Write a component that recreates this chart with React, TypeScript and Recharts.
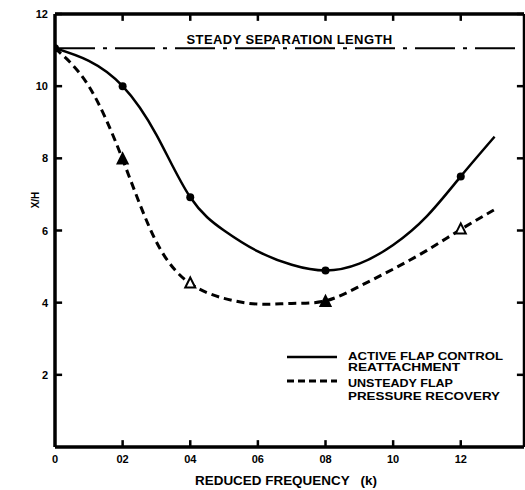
import React from 'react';
import { ComposedChart, Line, Scatter, XAxis, YAxis, ReferenceLine, Legend, Label } from 'recharts';

// axis ticks
const freqTicks = [0, 0.2, 0.4, 0.6, 0.8, 1.0, 1.2];
const freqTickLabels = ['0', '02', '04', '06', '08', '10', '12'];
const xhTicks = [2, 4, 6, 8, 10, 12];
const kMax = 1.387;
const xhMax = 12;

const steadyLength = 11.05;

// faired curves
const curveK = [0, 0.1, 0.2, 0.3, 0.4, 0.5, 0.6, 0.7, 0.8, 0.9, 1.0, 1.1, 1.2, 1.3];
const activeCurveXH = [11.05, 10.7, 10.0, 8.65, 6.92, 6.0, 5.42, 5.05, 4.89, 5.08, 5.6, 6.4, 7.5, 8.6];
const unsteadyCurveXH = [11.05, 10.0, 7.97, 5.68, 4.53, 4.12, 3.96, 3.98, 4.05, 4.45, 4.93, 5.45, 6.03, 6.58];

// measured points
const activePointK = [0, 0.2, 0.4, 0.8, 1.2];
const activePointXH = [11.05, 10.0, 6.92, 4.89, 7.5];
const unsteadyPointK = [0.2, 0.4, 0.8, 1.2];
const unsteadyPointXH = [7.97, 4.53, 4.02, 6.03];
const unsteadyPointFilled = [true, false, true, false];

const activeCurve = curveK.map((k, i) => ({ k, xh: activeCurveXH[i] }));
const unsteadyCurve = curveK.map((k, i) => ({ k, xh: unsteadyCurveXH[i] }));
const activePoints = activePointK.map((k, i) => ({ k, xh: activePointXH[i] }));
const unsteadyPoints = unsteadyPointK.map((k, i) => ({ k, xh: unsteadyPointXH[i], filled: unsteadyPointFilled[i] }));

const FONT = '"Liberation Sans", Arial, sans-serif';
// inward tick marks, in axis units (about 7px)
const TICK_K = 0.021;
const TICK_XH = 0.19;

const BottomTick = ({ x, y, payload }: any) => {
  const idx = freqTicks.findIndex((t) => Math.abs(t - payload.value) < 1e-6);
  return (
    <text x={x} y={y} textAnchor="middle" fontFamily={FONT} fontWeight="bold" fontSize={11} fill="#000">
      {freqTickLabels[idx]}
    </text>
  );
};

const LeftTick = ({ x, y, payload }: any) => (
  <text x={x} y={y + 4} textAnchor="end" fontFamily={FONT} fontWeight="bold" fontSize={11} fill="#000">
    {payload.value}
  </text>
);

const Dot = ({ cx, cy }: any) => <circle cx={cx} cy={cy} r={4} fill="#000" />;

const Triangle = ({ cx, cy, payload }: any) => (
  <polygon
    points={`${cx},${cy - 6} ${cx - 5},${cy + 4} ${cx + 5},${cy + 4}`}
    fill={payload.filled ? '#000' : '#fff'}
    stroke="#000"
    strokeWidth={2}
  />
);

const YTitle = () => (
  <text transform="translate(39, 200) rotate(-90)" textAnchor="middle" fontFamily={FONT} fontWeight="bold" fontSize={10} fill="#000">
    X/H
  </text>
);

const XTitle = ({ viewBox }: any) => (
  <text
    x={195}
    y={viewBox.y + viewBox.height - 5}
    textLength={182}
    lengthAdjust="spacingAndGlyphs"
    fontFamily={FONT}
    fontWeight="bold"
    fontSize={12.5}
    fill="#000"
    style={{ whiteSpace: 'pre' }}
  >
    REDUCED FREQUENCY   (k)
  </text>
);

const legendText = { fontFamily: FONT, fontWeight: 'bold', fontSize: 11, fill: '#000' } as const;

const LegendBox = () => (
  <svg width={225} height={60} style={{ display: 'block', overflow: 'visible' }}>
    <line x1={2} x2={52} y1={12} y2={12} stroke="#000" strokeWidth={2.5} />
    <text x={63} y={15} textLength={155} lengthAdjust="spacingAndGlyphs" {...legendText}>ACTIVE FLAP CONTROL</text>
    <text x={63} y={25.5} textLength={112} lengthAdjust="spacingAndGlyphs" {...legendText}>REATTACHMENT</text>
    <line x1={2} x2={52} y1={36} y2={36} stroke="#000" strokeWidth={3} strokeDasharray="7 4" />
    <text x={63} y={42} textLength={105} lengthAdjust="spacingAndGlyphs" {...legendText}>UNSTEADY FLAP</text>
    <text x={63} y={54.5} textLength={152} lengthAdjust="spacingAndGlyphs" {...legendText}>PRESSURE RECOVERY</text>
  </svg>
);

export default function App() {
  const tickMarks = [
    ...freqTicks.slice(1).map((k) => [{ x: k, y: 0 }, { x: k, y: TICK_XH }]),
    ...freqTicks.slice(1).map((k) => [{ x: k, y: xhMax }, { x: k, y: xhMax - TICK_XH }]),
    ...xhTicks.map((v) => [{ x: 0, y: v }, { x: TICK_K, y: v }]),
    ...xhTicks.map((v) => [{ x: kMax, y: v }, { x: kMax - TICK_K, y: v }]),
  ];

  return (
    <div style={{ position: 'absolute', left: 0, top: 0, background: '#fff' }}>
      <ComposedChart width={525} height={490} margin={{ top: 14, right: 1, left: 0, bottom: 0 }}>
        <XAxis
          xAxisId={0}
          dataKey="k"
          type="number"
          domain={[0, kMax]}
          ticks={freqTicks}
          allowDataOverflow
          height={43}
          stroke="#000"
          tickSize={-7}
          tickMargin={23}
          tickLine={false}
          axisLine={false}
          tick={<BottomTick />}
          label={<XTitle />}
        />
        <YAxis
          yAxisId={0}
          dataKey="xh"
          type="number"
          domain={[0, xhMax]}
          ticks={xhTicks}
          allowDataOverflow
          width={55}
          stroke="#000"
          tickSize={-7}
          tickMargin={14}
          tickLine={false}
          axisLine={false}
          tick={<LeftTick />}
          label={<YTitle />}
        />
        {/* plot frame */}
        <ReferenceLine x={0} stroke="#000" strokeWidth={3.5} ifOverflow="visible" />
        <ReferenceLine y={0} stroke="#000" strokeWidth={3.5} ifOverflow="visible" />
        <ReferenceLine y={xhMax} stroke="#000" strokeWidth={3.5} ifOverflow="visible" />
        <ReferenceLine x={kMax} stroke="#000" strokeWidth={2.5} ifOverflow="visible" />
        {tickMarks.map((seg, i) => (
          <ReferenceLine key={`tick-${i}`} segment={seg} stroke="#000" strokeWidth={2.5} ifOverflow="visible" />
        ))}
        <ReferenceLine y={steadyLength} stroke="#000" strokeWidth={2} strokeDasharray="40 8 4 8">
          <Label
            value="STEADY SEPARATION LENGTH"
            position="top"
            offset={4}
            style={{ fontFamily: FONT, fontWeight: 'bold', fontSize: 13, fill: '#000', letterSpacing: 0.4 }}
          />
        </ReferenceLine>
        <Line
          data={activeCurve}
          dataKey="xh"
          type="natural"
          stroke="#000"
          strokeWidth={2.5}
          dot={false}
          activeDot={false}
          isAnimationActive={false}
          legendType="none"
        />
        <Line
          data={unsteadyCurve}
          dataKey="xh"
          type="natural"
          stroke="#000"
          strokeWidth={3}
          strokeDasharray="8 5"
          dot={false}
          activeDot={false}
          isAnimationActive={false}
          legendType="none"
        />
        <Scatter data={activePoints} dataKey="xh" shape={<Dot />} isAnimationActive={false} legendType="none" />
        <Scatter data={unsteadyPoints} dataKey="xh" shape={<Triangle />} isAnimationActive={false} legendType="none" />
        <Legend
          layout="vertical"
          align="center"
          verticalAlign="middle"
          content={<LegendBox />}
          wrapperStyle={{ left: 285, top: 345, width: 225 }}
        />
      </ComposedChart>
    </div>
  );
}
